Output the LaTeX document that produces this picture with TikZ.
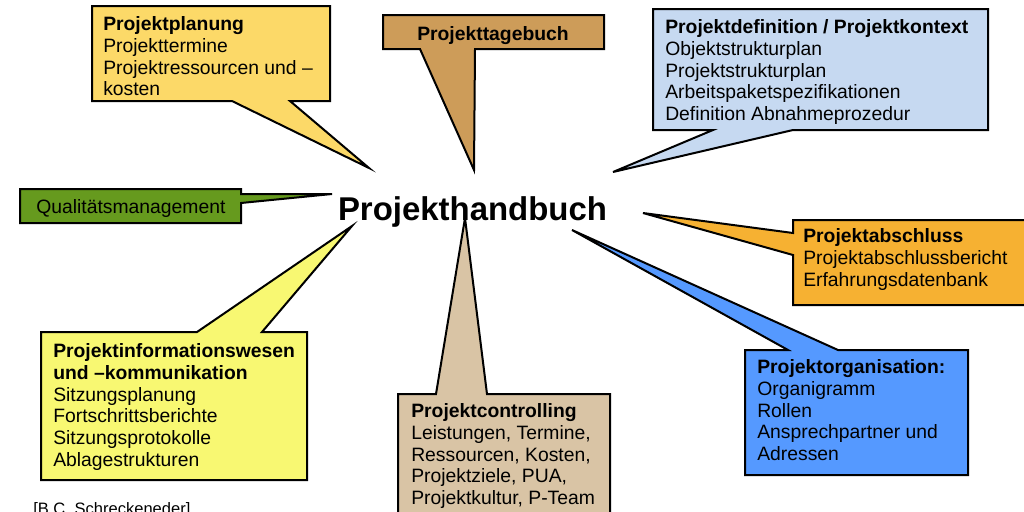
\documentclass[tikz,border=0pt]{standalone}
\usepackage{fontspec}
\setmainfont{Liberation Sans}
\usepackage{xcolor}
\usepackage{tikz}

\definecolor{planung}{HTML}{FCD968}
\definecolor{tagebuch}{HTML}{CD9C59}
\definecolor{definition}{HTML}{C6D9F1}
\definecolor{qualitaet}{HTML}{669A1E}
\definecolor{abschluss}{HTML}{F6B132}
\definecolor{info}{HTML}{F8F872}
\definecolor{controlling}{HTML}{D9C4A5}
\definecolor{organisation}{HTML}{5599FF}

\begin{document}
\begin{tikzpicture}[x=0.75pt, y=-0.75pt,
    callout/.style = {draw=black, line width=1.5pt, line join=miter},
    boxtext/.style = {anchor=north west, align=left, inner sep=0pt,
                      font=\fontsize{14.5}{16.3}\selectfont}]
    \useasboundingbox (0,0) rectangle (1024,511);
    \clip (0,0) rectangle (1024,511);

    \node[inner sep=0pt, anchor=base, font=\fontsize{24.7}{28}\selectfont\bfseries] (hb) at (472.5,220) {Projekthandbuch};

    \coordinate (plantip) at (369,168);
    \coordinate (tagtip) at (474,170);
    \coordinate (deftip) at (613,172);
    \coordinate (qmtip) at (332,194);
    \coordinate (abstip) at (643,213);
    \coordinate (infotip) at (352,226);
    \coordinate (ctrltip) at (465,218);
    \coordinate (orgtip) at (572,230);

    \filldraw[callout, fill=planung] (92,6) -- (330,6) -- (330,101) -- (290,101) -- (plantip) -- (232,101) -- (92,101) -- cycle;
    \filldraw[callout, fill=tagebuch] (383,15) -- (604,15) -- (604,49) -- (475,49) -- (tagtip) -- (420,49) -- (383,49) -- cycle;
    \filldraw[callout, fill=definition] (653,9) -- (988,9) -- (988,130) -- (793,130) -- (deftip) -- (713,130) -- (653,130) -- cycle;
    \filldraw[callout, fill=qualitaet] (20,189) -- (241,189) -- (241,194) -- (qmtip) -- (241,203) -- (241,223) -- (20,223) -- cycle;
    \filldraw[callout, fill=abschluss] (793,220) -- (1030,220) -- (1030,305) -- (793,305) -- (793,255) -- (abstip) -- (793,233) -- cycle;
    \filldraw[callout, fill=info] (41,332) -- (197,332) -- (infotip) -- (262,332) -- (307,332) -- (307,480) -- (41,480) -- cycle;
    \filldraw[callout, fill=controlling] (398,394) -- (436,394) -- (ctrltip) -- (487,394) -- (610,394) -- (610,520) -- (398,520) -- cycle;
    \filldraw[callout, fill=organisation] (745,350) -- (788,350) -- (orgtip) -- (838,350) -- (968,350) -- (968,475) -- (745,475) -- cycle;

    \node[boxtext] (plan) at (103,16.5) {\textbf{Projektplanung}\\Projekttermine\\Projektressourcen und –\\kosten};
    \node[inner sep=0pt, anchor=base, font=\fontsize{14.5}{16.3}\selectfont\bfseries] (tag) at (493,40) {Projekttagebuch};
    \node[boxtext] (def) at (665,19.5) {\textbf{Projektdefinition / Projektkontext}\\Objektstrukturplan\\Projektstrukturplan\\Arbeitspaketspezifikationen\\Definition Abnahmeprozedur};
    \node[inner sep=0pt, anchor=base west, font=\fontsize{14.5}{16.3}\selectfont] (qm) at (36,213) {Qualitätsmanagement};
    \node[boxtext] (abs) at (803,228.5) {\textbf{Projektabschluss}\\Projektabschlussbericht\\Erfahrungsdatenbank};
    \node[boxtext] (info) at (53,343.5) {\textbf{Projektinformationswesen}\\\textbf{und –kommunikation}\\Sitzungsplanung\\Fortschrittsberichte\\Sitzungsprotokolle\\Ablagestrukturen};
    \node[boxtext] (ctrl) at (411,403.5) {\textbf{Projektcontrolling}\\Leistungen, Termine,\\Ressourcen, Kosten,\\Projektziele, PUA,\\Projektkultur, P-Team};
    \node[boxtext] (org) at (757,359.5) {\textbf{Projektorganisation:}\\Organigramm\\Rollen\\Ansprechpartner und\\Adressen};

    \node[inner sep=0pt, anchor=base west, font=\fontsize{12.4}{14}\selectfont] (quelle) at (33,514) {[B.C. Schreckeneder]};
\end{tikzpicture}
\end{document}
